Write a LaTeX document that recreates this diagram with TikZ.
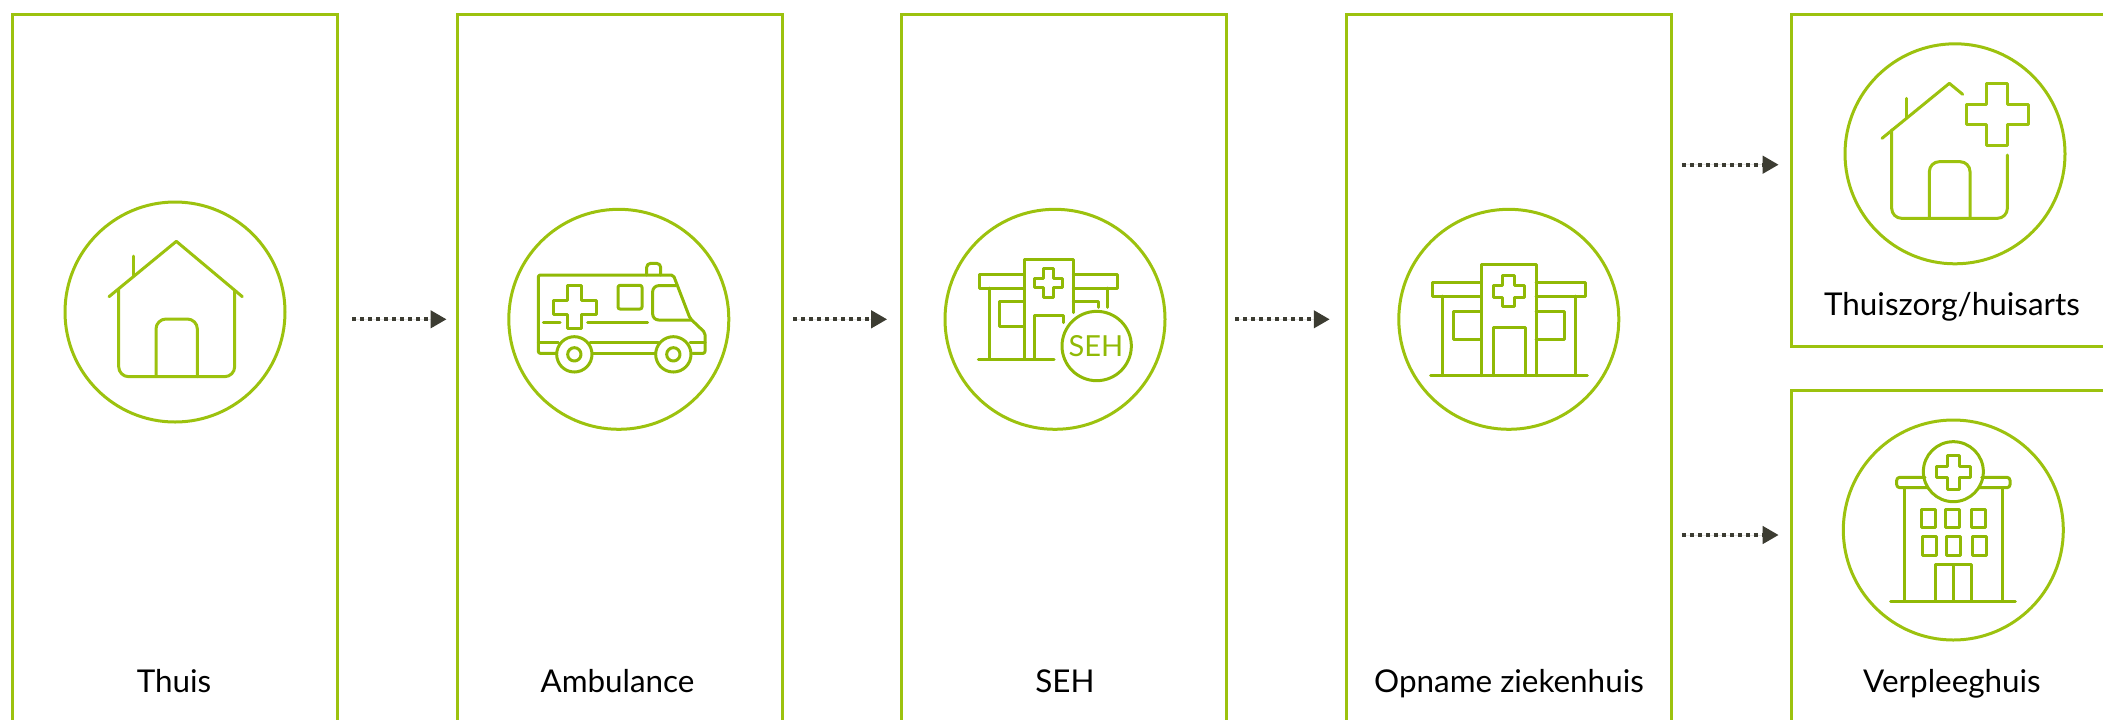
\documentclass[tikz,border=0pt]{standalone}
\usepackage{fontspec}
\setmainfont{Lato}
\usetikzlibrary{arrows.meta,positioning}
\definecolor{BoxGreen}{HTML}{9CC20E}
\definecolor{IconGreen}{HTML}{90B906}
\definecolor{ArrowGrey}{HTML}{3C3C32}
\tikzstyle{StepBox}=[draw=BoxGreen,line width=1.5pt,inner sep=0pt,minimum width=162.5pt,minimum height=373pt]
\tikzstyle{IconCircle}=[circle,draw=BoxGreen,line width=1.5pt,inner sep=0pt,minimum size=110pt]
\tikzstyle{StepLabel}=[inner sep=0pt,anchor=base,font=\fontsize{15.7}{19}\selectfont,text=black]
\tikzstyle{FlowArrow}=[-{Triangle[length=8pt,width=8.5pt]},draw=ArrowGrey,fill=ArrowGrey,line width=2pt,dash pattern=on 2pt off 2pt]
\tikzstyle{IconLine}=[draw=IconGreen,line width=1.5pt,line cap=round,line join=round]
\tikzstyle{HouseLine}=[draw=BoxGreen,line width=1.5pt,line cap=round,line join=round]
\newcommand{\CrossShape}[4]{({#1-#4},{#2-#3}) -- ({#1+#4},{#2-#3}) -- ({#1+#4},{#2-#4}) -- ({#1+#3},{#2-#4}) -- ({#1+#3},{#2+#4}) -- ({#1+#4},{#2+#4}) -- ({#1+#4},{#2+#3}) -- ({#1-#4},{#2+#3}) -- ({#1-#4},{#2+#4}) -- ({#1-#3},{#2+#4}) -- ({#1-#3},{#2-#4}) -- ({#1-#4},{#2-#4}) -- cycle}
\begin{document}
\begin{tikzpicture}[x=0.5pt,y=-0.5pt,node distance=222.3pt,on grid]
  \path[use as bounding box,clip] (0,0) rectangle (2103,719);

  \node[StepBox](ThuisBox) at (175,387.5){};
  \node[StepBox,right=of ThuisBox](AmbulanceBox){};
  \node[StepBox,right=of AmbulanceBox](SEHBox){};
  \node[StepBox,right=of SEHBox](OpnameBox){};
  \node[StepBox,minimum height=166pt](ThuiszorgBox) at (1953.7,180){};
  \node[StepBox](VerpleegBox) at (1953.7,763){};

  \node[IconCircle](ThuisCircle) at (175,312){};
  \node[IconCircle](AmbulanceCircle) at (618.8,319.3){};
  \node[IconCircle](SEHCircle) at (1055,319.3){};
  \node[IconCircle](OpnameCircle) at (1508.8,319.3){};
  \node[IconCircle](ThuiszorgCircle) at (1955,153.8){};
  \node[IconCircle](VerpleegCircle) at (1953.3,530){};

  \node[StepLabel](ThuisLabel) at (174,692.7){Thuis};
  \node[StepLabel](AmbulanceLabel) at (617.5,692.7){Ambulance};
  \node[StepLabel](SEHLabel) at (1065,692.7){SEH};
  \node[StepLabel](OpnameLabel) at (1509,692.7){Opname ziekenhuis};
  \node[StepLabel](ThuiszorgLabel) at (1952,315){Thuiszorg/huisarts};
  \node[StepLabel](VerpleegLabel) at (1952,692.7){Verpleeghuis};

  \coordinate (ThuiszorgEntry) at (ThuiszorgBox.west |- 0,164.7);
  \coordinate (VerpleegEntry) at (VerpleegBox.west |- 0,535);
  \draw[FlowArrow,shorten <=6.5pt,shorten >=4.5pt] (ThuisBox.east |- AmbulanceCircle) -- (AmbulanceBox.west |- AmbulanceCircle);
  \draw[FlowArrow,shorten <=4.7pt,shorten >=6.5pt] (AmbulanceBox.east |- AmbulanceCircle) -- (SEHBox.west |- AmbulanceCircle);
  \draw[FlowArrow,shorten <=3.5pt,shorten >=7.5pt] (SEHBox.east |- AmbulanceCircle) -- (OpnameBox.west |- AmbulanceCircle);
  \draw[FlowArrow,shorten <=4.5pt,shorten >=5.5pt] (OpnameBox.east |- ThuiszorgEntry) -- (ThuiszorgEntry);
  \draw[FlowArrow,shorten <=4.5pt,shorten >=5.5pt] (OpnameBox.east |- VerpleegEntry) -- (VerpleegEntry);

  % house
  \begin{scope}[shift={(0,170)},x=0.16667pt,y=-0.16667pt,HouseLine]
    \draw (327,380) -- (529,214) -- (727,380);
    \draw (400,258) -- (400,320);
    \draw[rounded corners=5pt] (356,356) -- (356,620) -- (704,620) -- (704,360);
    \draw[rounded corners=5pt] (468,620) -- (468,447) -- (592,447) -- (592,620);
  \end{scope}

  % ambulance
  \begin{scope}[shift={(490,190)},x=0.16667pt,y=-0.16667pt,IconLine]
    \draw[rounded corners=1pt] (198,490) -- (145,490) -- (145,255) -- (550,255) -- (600,385) -- (645,428) -- (645,490) -- (608,490);
    \draw (145,458) -- (205,458) (300,458) -- (505,458) (600,458) -- (645,458);
    \draw (310,490) -- (495,490);
    \draw[rounded corners=2pt] (470,255) -- (470,220) -- (512,220) -- (512,255);
    \draw \CrossShape{254}{351.5}{64}{21};
    \draw (160,398) -- (210,398) (293,398) -- (473,398);
    \draw[rounded corners=1pt] (384,286) rectangle (456,357);
    \draw[rounded corners=3pt] (558,287) -- (488,287) -- (488,390) -- (605,390);
    \foreach \wx in {253,550}{
      \draw (\wx,493) circle (53);
      \draw (\wx,493) circle (20);
    }
  \end{scope}

  % SEH building
  \begin{scope}[shift={(920,190)},x=0.16667pt,y=-0.16667pt,IconLine]
    \draw (313,505) -- (313,207) -- (460,207) -- (460,368);
    \draw \CrossShape{385}{279}{43}{14};
    \draw (313,254) -- (179,254) -- (179,294) -- (313,294);
    \draw (460,254) -- (593,254) -- (593,294) -- (460,294);
    \draw (207,294) -- (207,505);
    \draw (313,333) -- (238,333) -- (238,408) -- (313,408);
    \draw (175,507) -- (402,507);
    \draw (344,505) -- (344,377) -- (431,377) -- (431,398);
    \draw (563,294) -- (563,352);
    \draw (460,333) -- (535,333) -- (535,352);
    \draw (530,468) circle (104);
    \node[inner sep=0pt,text=IconGreen,font=\fontsize{14.5}{16}\selectfont](SEHMark) at (528,468){SEH};
  \end{scope}

  % hospital
  \begin{scope}[shift={(1380,190)},x=0.16667pt,y=-0.16667pt,IconLine]
    \draw (304,557) -- (304,222) -- (468,222) -- (468,557);
    \draw \CrossShape{386}{303}{46}{18};
    \draw (304,276) -- (156,276) -- (156,318) -- (304,318);
    \draw (468,276) -- (617,276) -- (617,318) -- (468,318);
    \draw (187,318) -- (187,557) (586,318) -- (586,557);
    \draw (304,365) -- (221,365) -- (221,448) -- (304,448);
    \draw (468,365) -- (553,365) -- (553,448) -- (468,448);
    \draw (341,557) -- (341,412) -- (436,412) -- (436,557);
    \draw (152,557) -- (622,557);
  \end{scope}

  % house with cross
  \begin{scope}[shift={(1830,30)},x=0.16667pt,y=-0.16667pt,HouseLine]
    \draw (156,325) -- (358,160) -- (398,193);
    \draw (230,205) -- (230,265);
    \draw[rounded corners=5pt] (185,300) -- (185,565) -- (532,565) -- (532,375);
    \draw[rounded corners=5pt] (298,565) -- (298,395) -- (420,395) -- (420,565);
    \draw \CrossShape{501}{253}{93}{31};
  \end{scope}

  % nursing home
  \begin{scope}[shift={(1830,405)},x=0.16667pt,y=-0.16667pt,IconLine]
    \draw (370,200) circle (90);
    \draw \CrossShape{370}{201}{51}{17};
    \draw[rounded corners=1.5pt] (285,217) -- (200,217) -- (200,248) -- (292,248);
    \draw[rounded corners=1.5pt] (455,217) -- (540,217) -- (540,248) -- (447,248);
    \draw (223,248) -- (223,588) (517,248) -- (517,588);
    \foreach \wx in {275,347,425}{
      \draw (\wx,312) rectangle ++(40,55);
      \draw ({\wx+3},395) rectangle ++(40,55);
    }
    \draw (316,588) -- (316,479) -- (425,479) -- (425,588);
    \draw (369,479) -- (369,588);
    \draw (182,588) -- (556,588);
  \end{scope}
\end{tikzpicture}
\end{document}
